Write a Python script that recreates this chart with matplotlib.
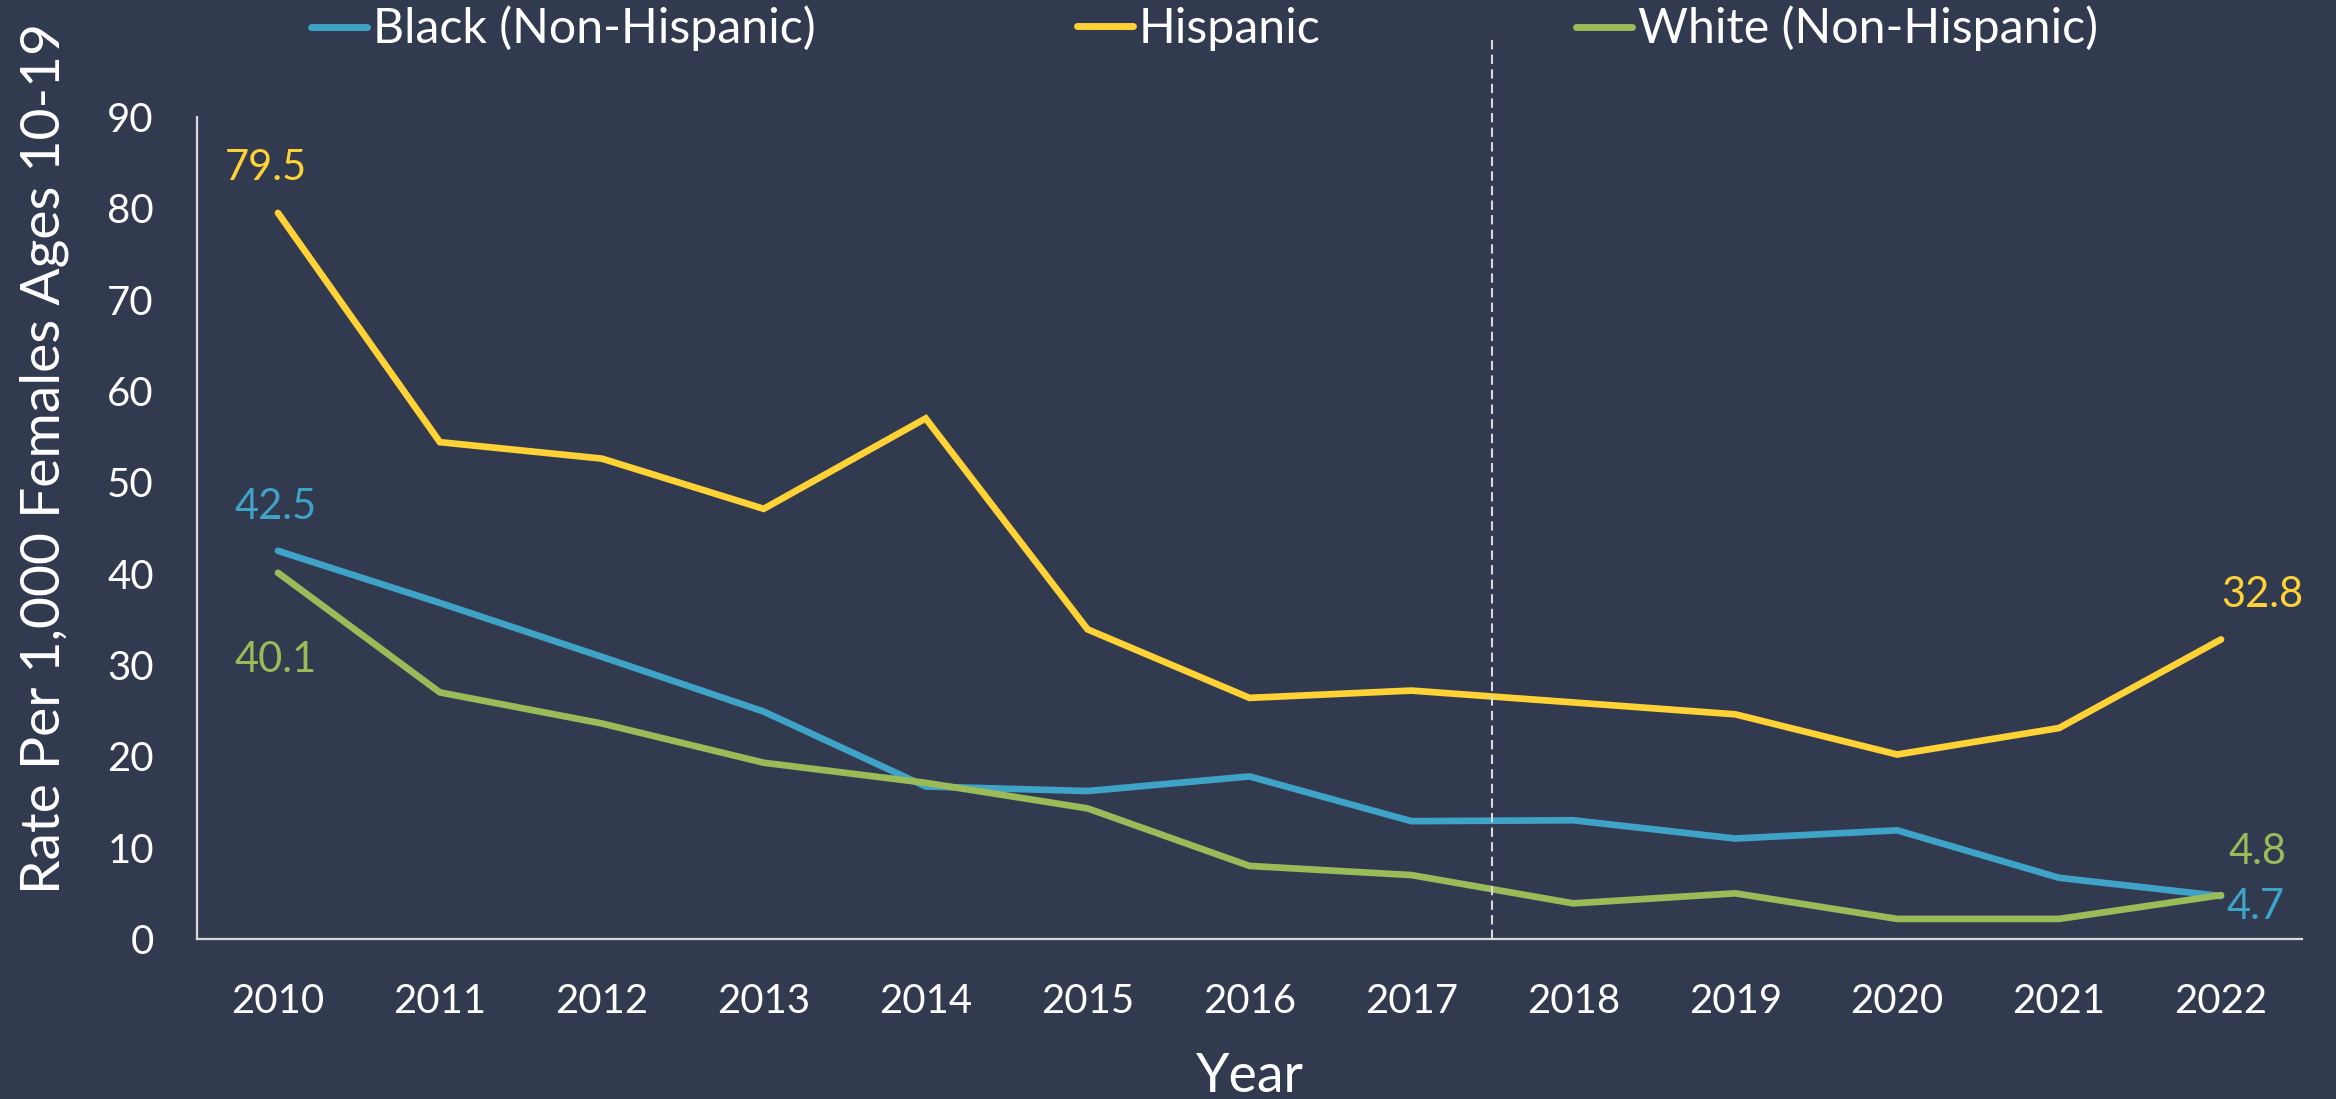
import matplotlib
matplotlib.use("Agg")
import matplotlib.pyplot as plt
from matplotlib.lines import Line2D

years = ["2010", "2011", "2012", "2013", "2014", "2015", "2016",
         "2017", "2018", "2019", "2020", "2021", "2022"]
black = [42.5, 36.8, 30.9, 24.9, 16.7, 16.2, 17.8, 12.9, 13.0, 11.0, 11.9, 6.7, 4.7]
hispanic = [79.5, 54.4, 52.6, 47.1, 57.0, 33.9, 26.4, 27.2, 25.9, 24.6, 20.2, 23.1, 32.8]
white = [40.1, 27.0, 23.6, 19.3, 17.1, 14.3, 8.0, 7.0, 3.9, 5.0, 2.2, 2.2, 4.8]
series_names = ["Black (Non-Hispanic)", "Hispanic", "White (Non-Hispanic)"]

BG = "#323A50"
C_BLACK = "#3EA3C6"
C_HISP = "#FFD236"
C_WHITE = "#9BBB59"
FAM = ["Lato", "DejaVu Sans"]
W, H = 2336, 1099

fig = plt.figure(figsize=(W / 100, H / 100), dpi=100, facecolor=BG)
renderer = fig.canvas.get_renderer()


def fit_size(txt, target_px, base=30, rot=0):
    t = fig.text(0, 0, txt, family=FAM, fontsize=base, rotation=rot)
    bb = t.get_window_extent(renderer)
    t.remove()
    ext = bb.height if rot else bb.width
    return base * target_px / ext


TICK_FS = fit_size("2010", 93)
LAB_FS = fit_size("79.5", 82)
LEG_FS = fit_size("Black (Non-Hispanic)", 443)
YL_FS = fit_size("Rate Per 1,000 Females Ages 10-19", 872, rot=90)
XL_FS = fit_size("Year", 108)

ax_left, ax_right = 197 / W, 2302 / W
ax_bot, ax_top = 1 - 939 / H, 1 - 117 / H
ax = fig.add_axes([ax_left, ax_bot, ax_right - ax_left, ax_top - ax_bot], facecolor=BG)

x = list(range(len(years)))
LW = 4.8
kw = dict(lw=LW, solid_capstyle="round", solid_joinstyle="miter")
lb, = ax.plot(x, black, color=C_BLACK, **kw)
lh, = ax.plot(x, hispanic, color=C_HISP, **kw)
lw_, = ax.plot(x, white, color=C_WHITE, **kw)

ax.set_xlim(-0.5, 12.5)
ax.set_ylim(0, 90)
ax.set_yticks(range(0, 91, 10))
ax.set_xticks(x)
ax.set_xticklabels(years)

for s in ["top", "right"]:
    ax.spines[s].set_visible(False)
for s in ["left", "bottom"]:
    ax.spines[s].set_color("#D9D9D9")
    ax.spines[s].set_linewidth(1.6)
ax.tick_params(axis="both", length=0, colors="white")
ax.tick_params(axis="x", pad=32)
ax.tick_params(axis="y", pad=31)
for t in ax.get_xticklabels() + ax.get_yticklabels():
    t.set_family(FAM)
    t.set_fontsize(TICK_FS)

# dashed divider between 2017 and 2018
ax.plot([7.5, 7.5], [0, 98.4], color="#D9D9D9", lw=1.5, ls=(0, (4.5, 2.5)), clip_on=False)

fig.text(44 / W, 1 - 458 / H, "Rate Per 1,000 Females Ages 10-19", family=FAM,
         fontsize=YL_FS, color="white", rotation=90, ha="center", va="center")
fig.text((ax_left + ax_right) / 2, 1 - 1092 / H, "Year", family=FAM, fontsize=XL_FS,
         color="white", ha="center", va="baseline")


def lab(xi, yi, color, dx, dy):
    ax.annotate(f"{yi}", (xi, yi), xytext=(dx, dy), textcoords="offset pixels",
                ha="center", va="center", color=color, family=FAM, fontsize=LAB_FS)


lab(0, hispanic[0], C_HISP, -12, 45)
lab(0, black[0], C_BLACK, -2, 44)
lab(0, white[0], C_WHITE, -2, -87)
lab(12, hispanic[12], C_HISP, 41, 44)
lab(12, white[12], C_WHITE, 36, 43)
lab(12, black[12], C_BLACK, 34, -11)

# legend entries placed individually (as in the original layout)
handles = [lb, lh, lw_]
anchors = [311 / W, 1077 / W, 1576 / W]
hl_px = 56
for h, name, a in zip(handles, series_names, anchors):
    leg = fig.legend([Line2D([], [], color=h.get_color(), lw=5, solid_capstyle="round")],
                     [name], loc="center left", bbox_to_anchor=(a, 0.974),
                     frameon=False, handlelength=hl_px / (LEG_FS * 100 / 72),
                     handletextpad=0.12, borderpad=0, borderaxespad=0,
                     prop={"family": FAM, "size": LEG_FS})
    for t in leg.get_texts():
        t.set_color("white")

fig.savefig("out.png", dpi=100, facecolor=BG)
